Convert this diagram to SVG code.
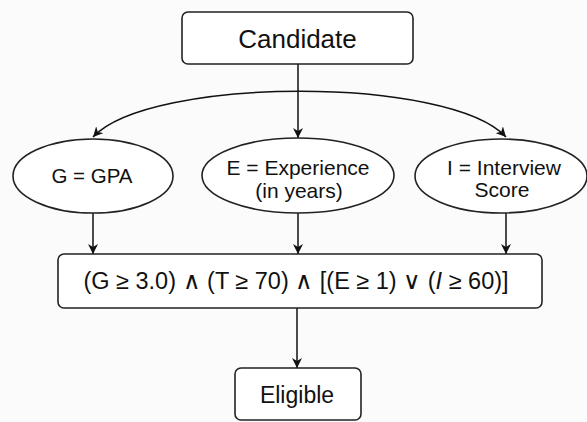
<svg xmlns="http://www.w3.org/2000/svg" width="587" height="422" viewBox="0 0 587 422">
<defs>
<marker id="ah" viewBox="0 0 10 10" refX="10" refY="5" markerWidth="10" markerHeight="10" markerUnits="userSpaceOnUse" orient="auto">
<path d="M0,0 L10,5 L0,10 L3,5 Z" fill="#111"/>
</marker>
<marker id="ahs" viewBox="0 0 10 10" refX="0" refY="5" markerWidth="10" markerHeight="10" markerUnits="userSpaceOnUse" orient="auto">
<path d="M10,0 L0,5 L10,10 L7,5 Z" fill="#111"/>
</marker>
<style>
.box{fill:#fff;stroke:#222;stroke-width:1.6}
.lbl{font-family:"Liberation Sans",Arial,Helvetica,sans-serif;fill:#111;text-anchor:middle}
.edge{fill:none;stroke:#111;stroke-width:1.5;marker-end:url(#ah)}
.op{font-family:"DejaVu Sans",sans-serif;font-weight:200}
</style>
</defs>
<rect width="587" height="422" fill="#fbfbfb"/>
<g id="connectors">
<path class="edge" d="M298,64 L298,138"/>
<path class="edge" d="M93,137 C150,76 450,76 506,137" marker-start="url(#ahs)"/>
<path class="edge" d="M93,213 L93,254"/>
<path class="edge" d="M298,213 L298,254"/>
<path class="edge" d="M506,212 L506,254"/>
<path class="edge" d="M297,308 L297,368"/>
</g>
<g id="candidate">
<rect class="box" x="182" y="12" width="231" height="52" rx="6"/>
<text class="lbl" x="297.5" y="48" font-size="26">Candidate</text>
</g>
<g id="gpa">
<ellipse class="box" cx="93" cy="176" rx="80" ry="37"/>
<text class="lbl" x="92" y="183" font-size="20.5">G = GPA</text>
</g>
<g id="experience">
<ellipse class="box" cx="298" cy="175.5" rx="96" ry="37.5"/>
<text class="lbl" x="298" y="175" font-size="21">E = Experience</text>
<text class="lbl" x="299" y="198" font-size="21">(in years)</text>
</g>
<g id="interview">
<ellipse class="box" cx="501" cy="176" rx="86" ry="37"/>
<text class="lbl" x="504" y="175" font-size="21">I = Interview</text>
<text class="lbl" x="502" y="197" font-size="21">Score</text>
</g>
<g id="condition">
<rect class="box" x="58" y="254" width="484" height="54" rx="6"/>
<text class="lbl" x="296" y="289" font-size="23.5">(G ≥ 3.0) <tspan class="op">∧</tspan> (T ≥ 70) <tspan class="op">∧</tspan> [(E ≥ 1) <tspan class="op">∨</tspan> (<tspan font-style="italic">I</tspan> ≥ 60)]</text>
</g>
<g id="eligible">
<rect class="box" x="235" y="368" width="126" height="52" rx="6"/>
<text class="lbl" x="297" y="403" font-size="23">Eligible</text>
</g>
</svg>
